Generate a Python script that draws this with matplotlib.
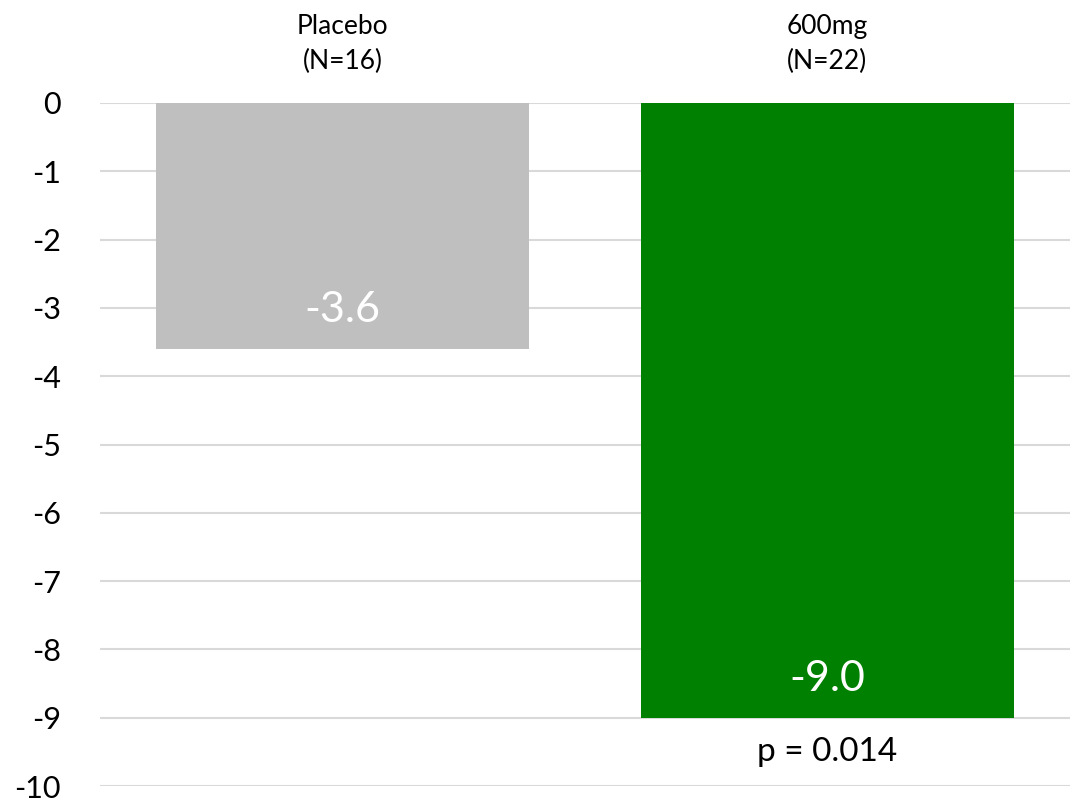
import matplotlib.pyplot as plt

# group labels, changes from baseline, bar colours
groups = ["Placebo\n(N=16)", "600mg\n(N=22)"]
changes = [-3.6, -9.0]
colors = ["#bfbfbf", "#008000"]
p_text = "p = 0.014"
yticks = list(range(0, -11, -1))

plt.rcParams['font.family'] = ['Lato', 'DejaVu Sans']

fig = plt.figure(figsize=(10.77, 8.01), dpi=100)
ax = fig.add_axes([100 / 1077, 15 / 801, 970 / 1077, 683 / 801])

x = range(len(groups))
bars = ax.bar(x, changes, width=0.77, color=colors, zorder=2)

ax.set_xlim(-0.5, 1.5)
ax.set_ylim(-10, 0)
ax.set_yticks(yticks)
ax.set_yticklabels([str(t) for t in yticks], fontsize=22)
ax.tick_params(axis='y', length=0, pad=28)
ax.yaxis.grid(True, color="#d9d9d9", linewidth=1.5, zorder=0)
ax.set_axisbelow(True)

ax.xaxis.tick_top()
ax.set_xticks(list(x))
ax.set_xticklabels(groups, fontsize=19, linespacing=1.5)
ax.tick_params(axis='x', length=0, pad=21)

for s in ax.spines.values():
    s.set_visible(False)

# values inside the bars, near the bar end
for xi, v in zip(x, changes):
    ax.annotate(f"{v:.1f}", xy=(xi, v), xytext=(0, 28), textcoords='offset points',
                ha='center', va='center', color='white', fontsize=31)

ax.annotate(p_text, xy=(1, changes[1]), xytext=(0, -25), textcoords='offset points',
            ha='center', va='center', color='black', fontsize=24)

fig.savefig("out.png", dpi=100)
